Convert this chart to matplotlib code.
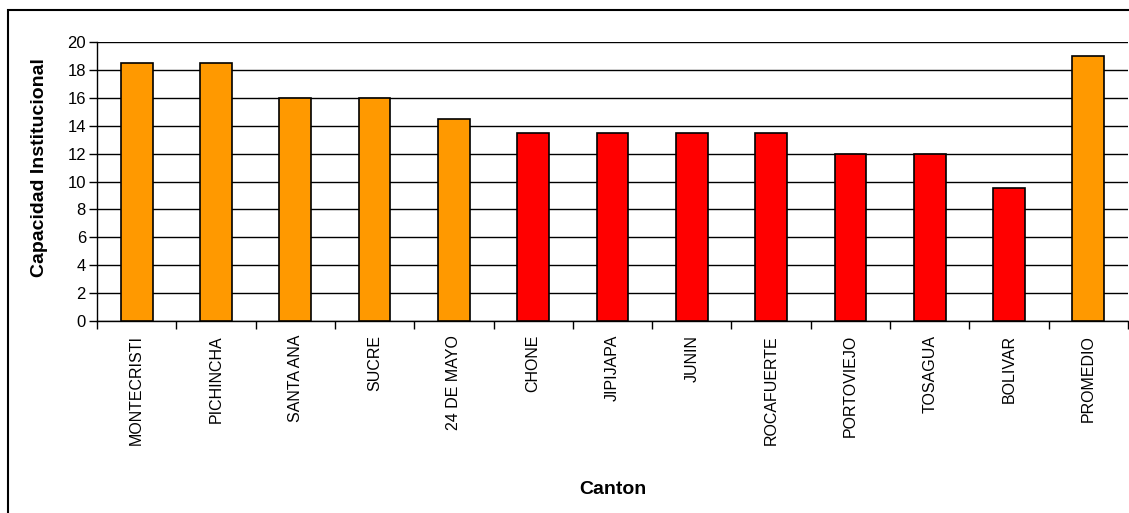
import matplotlib
matplotlib.use("Agg")
import matplotlib.pyplot as plt
from matplotlib.patches import Rectangle

# Capacidad institucional por canton
cantones = ["MONTECRISTI", "PICHINCHA", "SANTA ANA", "SUCRE", "24 DE MAYO",
            "CHONE", "JIPIJAPA", "JUNIN", "ROCAFUERTE", "PORTOVIEJO",
            "TOSAGUA", "BOLIVAR", "PROMEDIO"]
capacidad = [18.5, 18.5, 16, 16, 14.5, 13.5, 13.5, 13.5, 13.5, 12, 12, 9.5, 19]
grupo = ["alta", "alta", "alta", "alta", "alta", "baja", "baja", "baja",
         "baja", "baja", "baja", "baja", "alta"]
colores = {"alta": "#FF9900", "baja": "#FF0000"}

plt.rcParams['font.family'] = ['Liberation Sans', 'DejaVu Sans']

W, H = 1129, 513
fig = plt.figure(figsize=(W / 100, H / 100), dpi=100)
ax = fig.add_axes([97 / W, 1 - 321 / H, (1128 - 97) / W, (321 - 42) / H])

x = range(len(cantones))
ax.bar(x, capacidad, width=0.40, color=[colores[g] for g in grupo],
       edgecolor="black", linewidth=1.2, zorder=3)

ax.set_xlim(-0.5, len(cantones) - 0.5)
ax.set_ylim(0, 20)
ax.set_yticks(range(0, 21, 2))
ax.yaxis.grid(True, color="black", linewidth=1.0, zorder=0)

# category labels centred under the bars, tick marks at the boundaries
ax.set_xticks(list(x))
ax.set_xticklabels(cantones, rotation=90, fontsize=11.5)
ax.tick_params(axis="x", which="major", length=0, pad=10)
ax.set_xticks([i + 0.5 for i in range(-1, len(cantones))], minor=True)
ax.tick_params(axis="x", which="minor", length=6, direction="out", width=1)
ax.tick_params(axis="y", length=6, direction="out", width=1, labelsize=12, pad=2)

for s in ["top", "right"]:
    ax.spines[s].set_visible(False)
ax.spines["left"].set_linewidth(1)
ax.spines["bottom"].set_linewidth(1)

ax.set_ylabel("Capacidad Institucional", fontsize=14, fontweight="bold")
ax.yaxis.set_label_coords(-0.048, 0.55)
fig.text(613 / W, 1 - 490 / H, "Canton", fontsize=14, fontweight="bold",
         ha="center", va="center")

# outer chart border
fig.patches.append(Rectangle((8 / W, -0.1), 1.2, 1 - 10 / H + 0.1,
                             transform=fig.transFigure, fill=False,
                             edgecolor="black", linewidth=1.5))

fig.savefig("out.png", dpi=100)
